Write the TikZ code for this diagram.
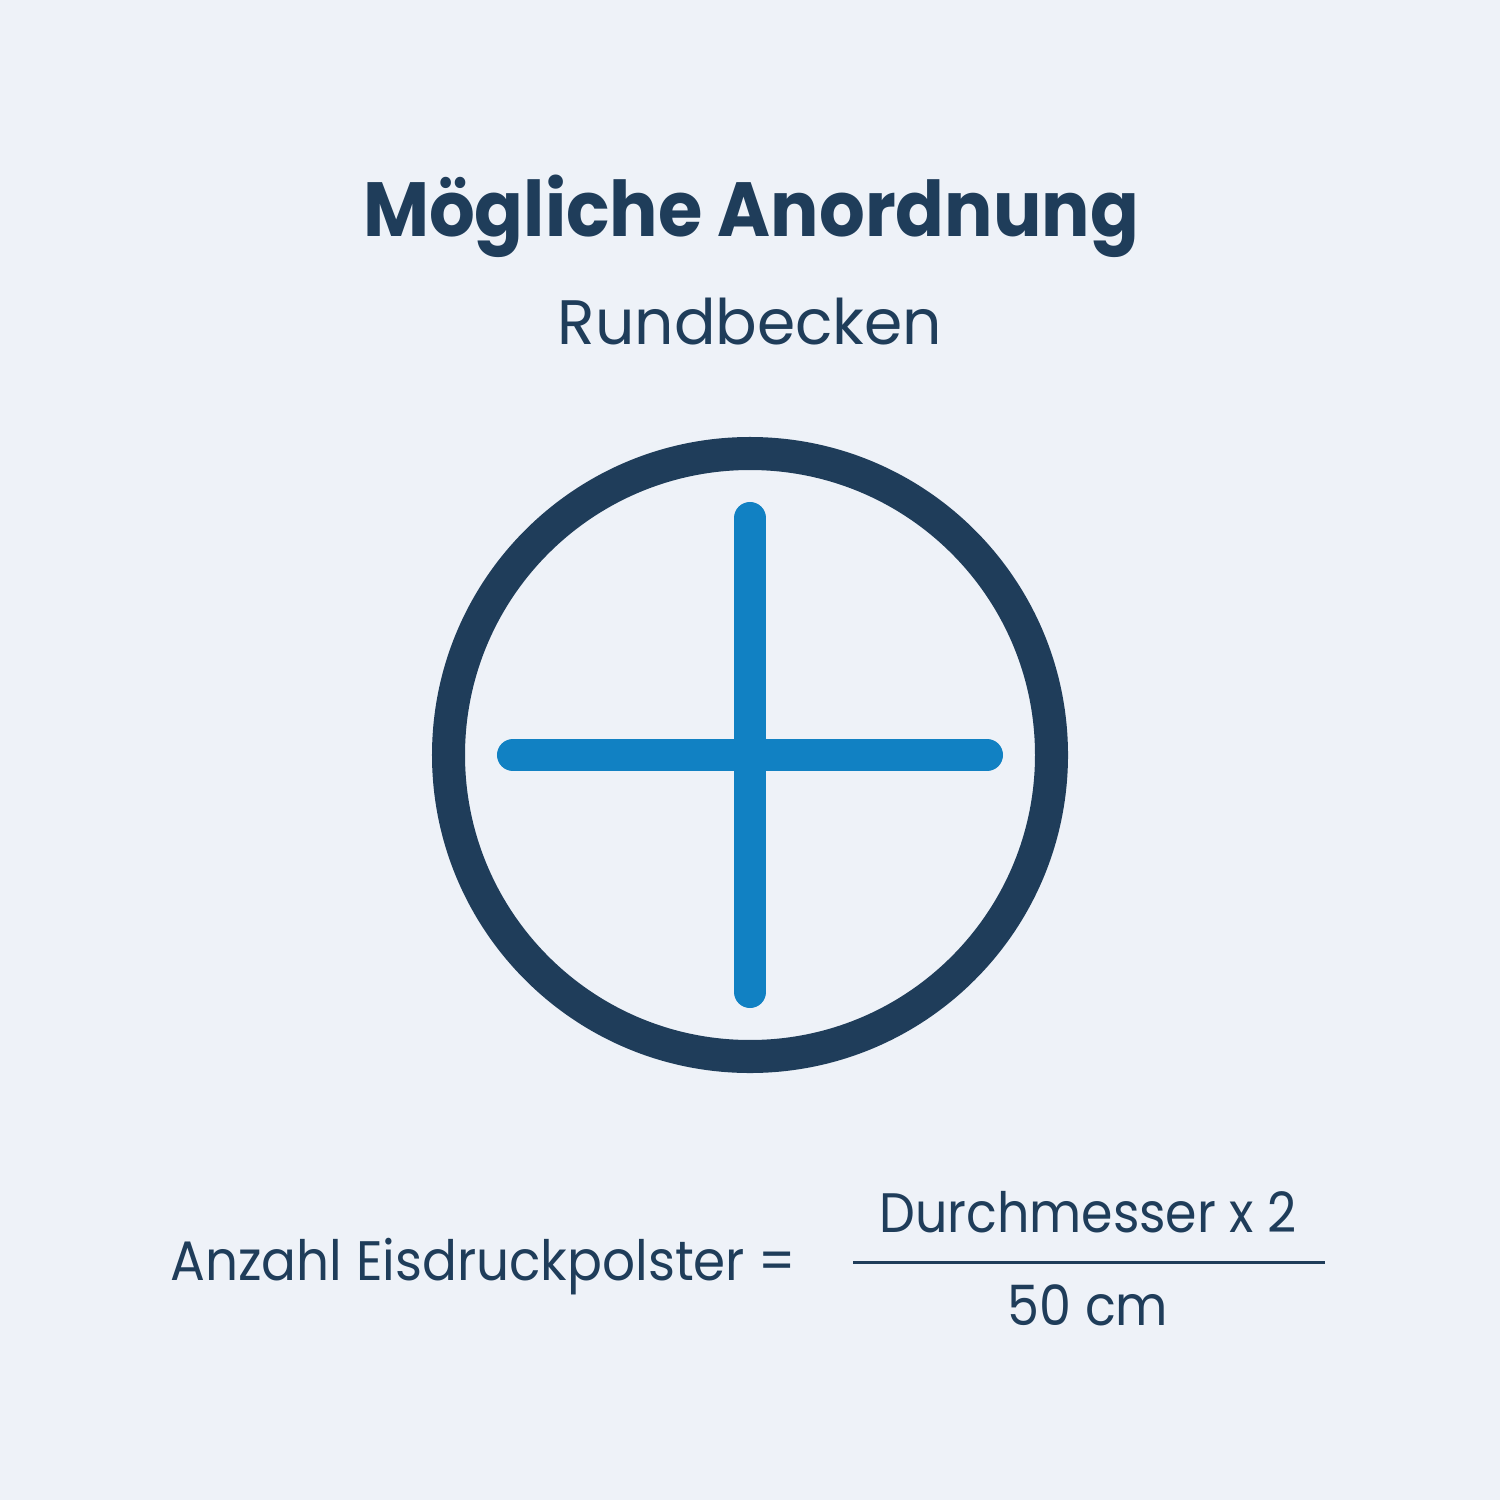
\documentclass[tikz,border=0pt]{standalone}
\usepackage{fontspec}
\usepackage{graphicx}
\setmainfont{Poppins}
\definecolor{bg}{HTML}{EEF2F8}
\definecolor{navy}{HTML}{1F3D5A}
\definecolor{cblue}{HTML}{1181C3}
\begin{document}
\begin{tikzpicture}[x=0.01cm,y=-0.01cm,
  txt/.style={inner sep=0pt,text=navy,anchor=base}]
\fill[bg] (0,0) rectangle (1500,1500);
\useasboundingbox (0,0) rectangle (1500,1500);
\node[txt] (title) at (751,237) {\scalebox{0.852}[0.91]{\fontsize{24}{28}\selectfont\bfseries Mögliche Anordnung}};
\node[txt] (sub) at (750,344) {\scalebox{0.922}[0.94]{\fontsize{19}{23}\selectfont Rundbecken}};
\coordinate (c) at (750,755);
\draw[navy,line width=0.33cm] (c) circle[radius=301.5];
\coordinate (l) at (513,755);
\coordinate (r) at (987,755);
\coordinate (t) at (750,518);
\coordinate (b) at (750,992);
\draw[cblue,line width=0.32cm,line cap=round] (l) -- (r);
\draw[cblue,line width=0.32cm,line cap=round] (t) -- (b);
\node[txt,anchor=base east] (lhs) at (797,1280) {\scalebox{0.864}[0.93]{\fontsize{17}{20}\selectfont Anzahl Eisdruckpolster =}};
\node[txt] (num) at (1088,1232) {\scalebox{0.847}[0.93]{\fontsize{17}{20}\selectfont Durchmesser x 2}};
\node[txt] (den) at (1088,1325) {\scalebox{0.85}[0.93]{\fontsize{17}{20}\selectfont 50 cm}};
\coordinate (fl) at (853,1262);
\coordinate (fr) at (1325,1262);
\draw[navy,line width=0.03cm] (fl) -- (fr);
\end{tikzpicture}
\end{document}
